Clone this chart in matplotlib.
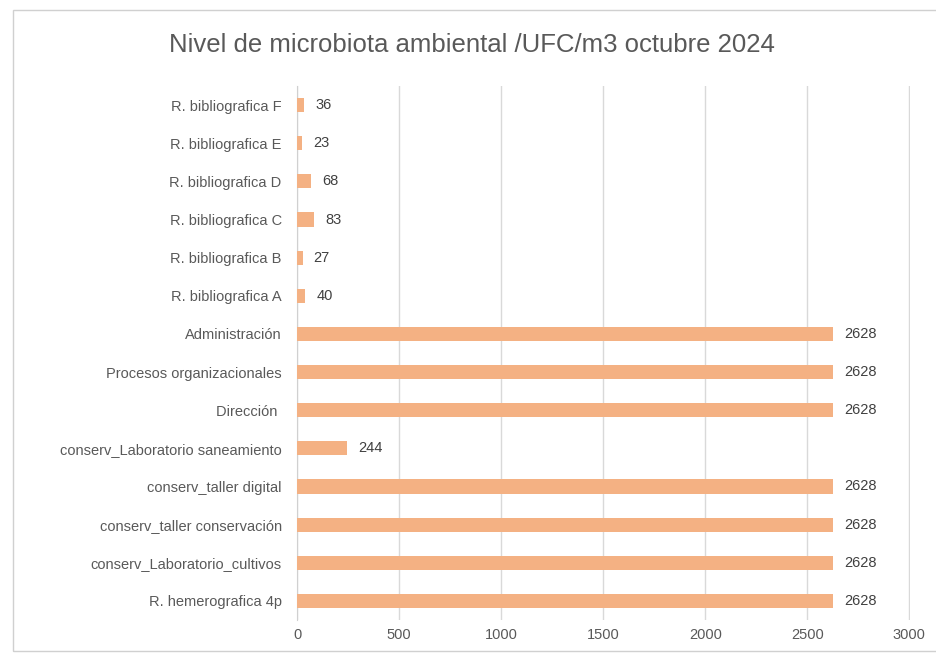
import matplotlib
matplotlib.use("Agg")
from matplotlib import pyplot as plt
from matplotlib.patches import Rectangle

# categorías de abajo hacia arriba
areas = ["R. hemerografica 4p", "conserv_Laboratorio_cultivos", "conserv_taller conservación",
         "conserv_taller digital", "conserv_Laboratorio saneamiento", "Dirección ",
         "Procesos organizacionales", "Administración", "R. bibliografica A",
         "R. bibliografica B", "R. bibliografica C", "R. bibliografica D",
         "R. bibliografica E", "R. bibliografica F"]
ufc = [2628, 2628, 2628, 2628, 244, 2628, 2628, 2628, 40, 27, 83, 68, 23, 36]
xticks = [0, 500, 1000, 1500, 2000, 2500, 3000]

plt.rcParams['font.family'] = ['Liberation Sans', 'DejaVu Sans']
gris = "#595959"
barra = "#F4B183"

fig = plt.figure(figsize=(9.36, 6.61), dpi=100)
# marco del gráfico
fig.patches.append(Rectangle((13/936, 1-651/661), 1, 641/661, transform=fig.transFigure,
                             fill=False, edgecolor="#d0d0d0", linewidth=1))
ax = fig.add_axes([297/936, 1-620/661, (910-297)/936, (620-86)/661])

pos = list(range(len(areas)))
ax.barh(pos, ufc, height=0.37, color=barra, zorder=3)
for p, v in zip(pos, ufc):
    ax.annotate(str(v), (v, p), xytext=(8, 0), textcoords="offset points",
                va="center", ha="left", fontsize=10.5, color="#404040")

ax.set_xlim(0, 3003)
ax.set_ylim(-0.5, len(areas) - 0.5)
ax.set_xticks(xticks)
ax.set_yticks(pos)
ax.set_yticklabels(areas)
ax.tick_params(axis="both", length=0, labelsize=10.5, colors=gris)
ax.tick_params(axis="x", pad=6)
ax.tick_params(axis="y", pad=11)
ax.grid(axis="x", color="#d9d9d9", linewidth=1, zorder=0)
for s in ["top", "right", "bottom"]:
    ax.spines[s].set_visible(False)
ax.spines["left"].set_color("#d0d0d0")

fig.text(472/936, 1-45/661, "Nivel de microbiota ambiental /UFC/m3 octubre 2024",
         ha="center", va="center", fontsize=18.5, color=gris)

plt.savefig("out.png", dpi=100)
